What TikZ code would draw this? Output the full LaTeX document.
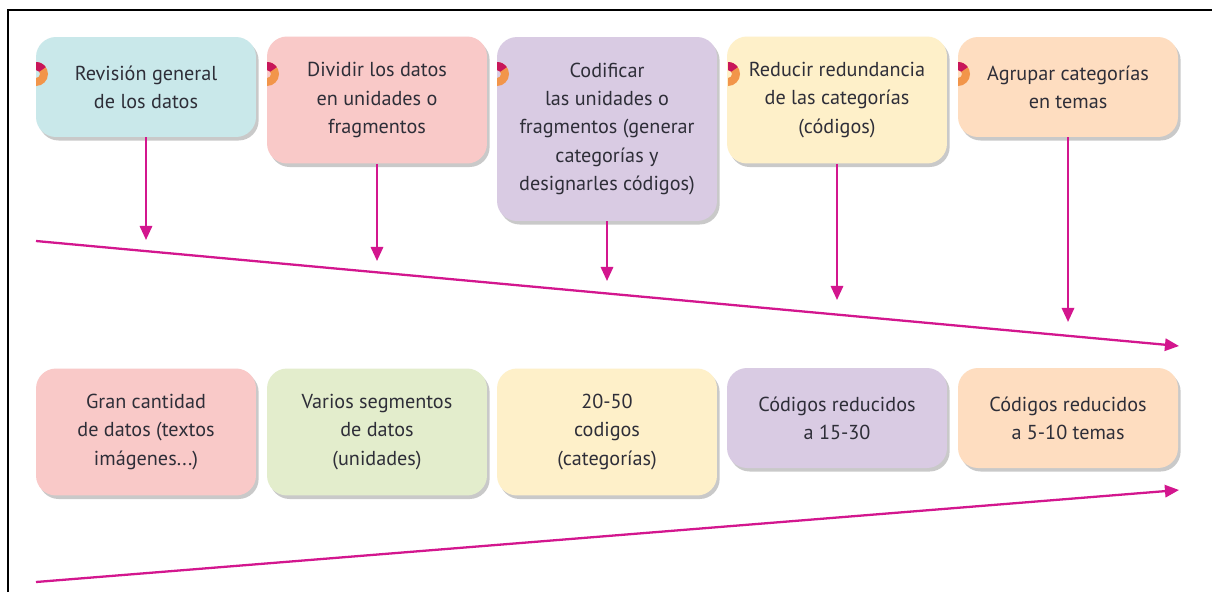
\documentclass[tikz,border=0pt]{standalone}
\usepackage{fontspec}
\setmainfont{PT Sans}
\usetikzlibrary{shadows,arrows.meta}
\definecolor{cCyan}{HTML}{C9E8EA}
\definecolor{cPink}{HTML}{F9C9C8}
\definecolor{cLav}{HTML}{D9CBE3}
\definecolor{cYel}{HTML}{FEF0C9}
\definecolor{cPeach}{HTML}{FEDDC0}
\definecolor{cGreen}{HTML}{E3EDCC}
\definecolor{cMag}{HTML}{D3168E}
\definecolor{cOrange}{HTML}{F2954A}
\definecolor{cMarkR}{HTML}{C8165A}
\definecolor{cText}{HTML}{2E2E38}
\tikzset{
  boxstyle/.style={rounded corners=0.4cm, minimum width=4.4cm, align=center,
    text=cText, font=\fontsize{11.5}{16}\selectfont, inner sep=2pt,
    drop shadow={shadow xshift=1.5pt, shadow yshift=-2pt, opacity=0.35, fill=black!60}},
  flowarrow/.style={cMag, line width=1.3pt, -{Triangle[length=8pt,width=7pt]}},
  framestyle/.style={black, line width=1.2pt}
}
\begin{document}
\begin{tikzpicture}[x=0.02cm,y=-0.02cm]
\useasboundingbox (0,0) rectangle (1212,592);
\fill[white] (0,0) rectangle (1212,592);
\draw[framestyle] (8,592) -- (8,10) -- (1212,10);

% top boxes
\node[boxstyle, fill=cCyan, minimum height=2cm] (b1) at (146,87) {Revisión general\\de los datos};
\node[boxstyle, fill=cPink, minimum height=2.54cm] (b2) at (377,100) {Dividir los datos\\en unidades o\\fragmentos};
\node[boxstyle, fill=cLav, minimum height=3.68cm] (b3) at (607,129) {Codificar\\las unidades o\\fragmentos (generar\\categorías y\\designarles códigos)};
\node[boxstyle, fill=cYel, minimum height=2.54cm] (b4) at (837,100) {Reducir redundancia\\de las categorías\\(códigos)};
\node[boxstyle, fill=cPeach, minimum height=2cm] (b5) at (1068,87) {Agrupar categorías\\en temas};

% markers (half rings at the left edge of the top boxes)
\foreach \mx in {36,267,497,728,958}{
  \begin{scope}[shift={(\mx,74)}, x=0.02cm, y=0.02cm]
    \fill[cOrange] (0,12) arc[start angle=90,end angle=-90,radius=12] -- (0,-4) arc[start angle=-90,end angle=90,radius=4] -- cycle;
    \fill[cMarkR] (0,12) arc[start angle=90,end angle=35,radius=12] -- (35:4) arc[start angle=35,end angle=90,radius=4] -- cycle;
  \end{scope}
}

% bottom boxes
\node[boxstyle, fill=cPink, minimum height=2.54cm] (c1) at (146,432) {Gran cantidad\\de datos (textos\\imágenes...)};
\node[boxstyle, fill=cGreen, minimum height=2.54cm] (c2) at (377,432) {Varios segmentos\\de datos\\(unidades)};
\node[boxstyle, fill=cYel, minimum height=2.54cm] (c3) at (607,432) {20-50\\codigos\\(categorías)};
\node[boxstyle, fill=cLav, minimum height=2cm] (c4) at (837,418) {Códigos reducidos\\a 15-30};
\node[boxstyle, fill=cPeach, minimum height=2cm] (c5) at (1068,418) {Códigos reducidos\\a 5-10 temas};

% coordinates
\coordinate (t1) at (146,240);
\coordinate (t2) at (377,261);
\coordinate (t3) at (607,281);
\coordinate (t4) at (837,300);
\coordinate (t5) at (1068,322);
\coordinate (l1s) at (36,241);
\coordinate (l1e) at (1179,346);
\coordinate (l2s) at (36,582);
\coordinate (l2e) at (1179,490);

\draw[flowarrow] (b1.south) -- (t1);
\draw[flowarrow] (b2.south) -- (t2);
\draw[flowarrow] (b3.south) -- (t3);
\draw[flowarrow] (b4.south) -- (t4);
\draw[flowarrow] (b5.south) -- (t5);
\draw[flowarrow] (l1s) -- (l1e);
\draw[flowarrow] (l2s) -- (l2e);
\end{tikzpicture}
\end{document}
